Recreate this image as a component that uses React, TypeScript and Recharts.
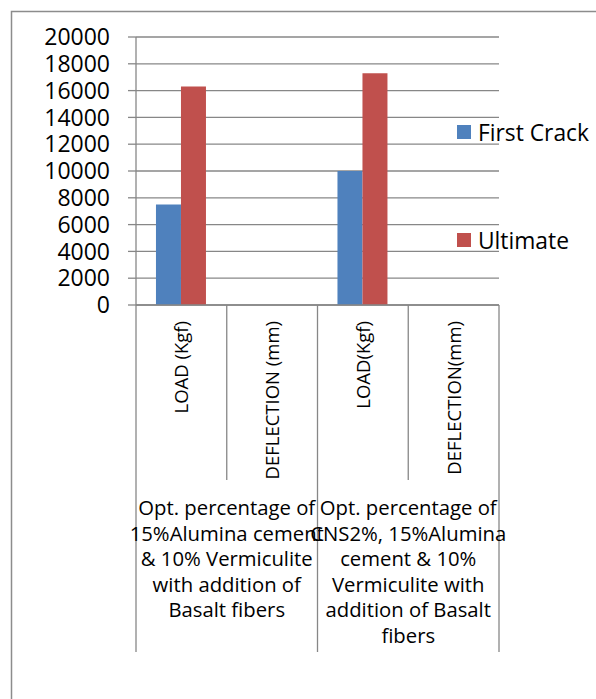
import React from 'react';
import { BarChart, Bar, XAxis, YAxis, CartesianGrid, Legend } from 'recharts';

const measures = ['LOAD (Kgf)', 'DEFLECTION (mm)', 'LOAD(Kgf)', 'DEFLECTION(mm)'];
const groups = [
  'Opt. percentage of\n15%Alumina cement\n& 10% Vermiculite\nwith addition of\nBasalt fibers',
  'Opt. percentage of\nCNS2%, 15%Alumina\ncement & 10%\nVermiculite with\naddition of Basalt\nfibers',
];
const measureGroup = [0, 0, 1, 1];
const firstCrack = [7500, 0, 10000, 0];
const ultimate = [16300, 0, 17300, 0];
const yTicks = [0, 2000, 4000, 6000, 8000, 10000, 12000, 14000, 16000, 18000, 20000];

const data = measures.map((m, i) => ({
  measure: m,
  group: groups[measureGroup[i]],
  'First Crack': firstCrack[i],
  Ultimate: ultimate[i],
}));

const W = 596;
const H = 699;
const MARGIN = { top: 37, right: 97, left: 0, bottom: 47 };
const Y_W = 136;
const PLOT_W = W - MARGIN.left - Y_W - MARGIN.right;
const CAT_H = 175;
const GROUP_H = 172;
const FONT = '"Open Sans", sans-serif';
const LINE = '#878787';

const CategoryTick = (props: any) => {
  const { x, y, payload, index } = props;
  const band = PLOT_W / measures.length;
  return (
    <g>
      <line x1={x - band / 2} x2={x - band / 2} y1={y} y2={y + CAT_H} stroke={LINE} strokeWidth={1.3} />
      {index === measures.length - 1 && (
        <line x1={x + band / 2} x2={x + band / 2} y1={y} y2={y + CAT_H} stroke={LINE} strokeWidth={1.3} />
      )}
      <text
        x={x + 7}
        y={y + 16}
        transform={`rotate(-90, ${x + 7}, ${y + 16})`}
        textAnchor="end"
        fontSize={18.5}
        fontFamily={FONT}
        fill="#000"
      >
        {payload.value}
      </text>
    </g>
  );
};

const GroupTick = (props: any) => {
  const { x, y, payload, index } = props;
  const band = PLOT_W / groups.length;
  const lines = String(payload.value).split('\n');
  return (
    <g>
      <line x1={x - band / 2} x2={x - band / 2} y1={y} y2={y + GROUP_H} stroke={LINE} strokeWidth={1.3} />
      {index === groups.length - 1 && (
        <line x1={x + band / 2} x2={x + band / 2} y1={y} y2={y + GROUP_H} stroke={LINE} strokeWidth={1.3} />
      )}
      <text textAnchor="middle" fontSize={20.3} fontFamily={FONT} fill="#000">
        {lines.map((l, i) => (
          <tspan key={i} x={x} y={y + 35 + i * 25.6}>
            {l}
          </tspan>
        ))}
      </text>
    </g>
  );
};

const LegendContent = (props: any) => {
  const { payload } = props;
  return (
    <div style={{ fontFamily: FONT, fontSize: 22.8, color: '#000' }}>
      {(payload || []).map((p: any, i: number) => (
        <div key={i} style={{ display: 'flex', alignItems: 'center', height: 28, marginBottom: i === 0 ? 80 : 0 }}>
          <span style={{ width: 14, height: 14, background: p.color, display: 'inline-block', marginRight: 7 }} />
          <span style={{ whiteSpace: 'nowrap' }}>{p.value}</span>
        </div>
      ))}
    </div>
  );
};

export default function App() {
  return (
    <div style={{ position: 'absolute', left: 0, top: 0, width: W, height: H, background: '#fff', overflow: 'hidden' }}>
      <svg width={W} height={H} style={{ position: 'absolute', left: 0, top: 0 }}>
        <path d={`M11.5,${H} L11.5,11.5 L${W},11.5`} fill="none" stroke="#8c8c8c" strokeWidth={1.5} />
      </svg>
      <BarChart
        width={W}
        height={H}
        data={data}
        margin={MARGIN}
        barCategoryGap="22%"
        barGap={0}
        style={{ position: 'absolute', left: 0, top: 0 }}
      >
        <CartesianGrid horizontal vertical={false} stroke={LINE} strokeWidth={1.3} />
        <XAxis
          dataKey="measure"
          interval={0}
          height={CAT_H}
          tickSize={0}
          tickMargin={0}
          tickLine={false}
          axisLine={{ stroke: LINE, strokeWidth: 1.3 }}
          tick={<CategoryTick />}
        />
        <XAxis
          xAxisId="group"
          dataKey="group"
          allowDuplicatedCategory={false}
          interval={0}
          height={GROUP_H}
          tickSize={0}
          tickMargin={0}
          tickLine={false}
          axisLine={false}
          tick={<GroupTick />}
        />
        <YAxis
          width={Y_W}
          domain={[0, 20000]}
          ticks={yTicks}
          interval={0}
          tickSize={8}
          tickMargin={18}
          axisLine={{ stroke: LINE, strokeWidth: 1.3 }}
          tickLine={{ stroke: LINE, strokeWidth: 1.3 }}
          tick={{ fill: '#000', fontSize: 23, fontFamily: FONT }}
        />
        <Legend
          layout="vertical"
          align="center"
          verticalAlign="middle"
          content={<LegendContent />}
          wrapperStyle={{ position: 'absolute', left: 457, top: 118, width: 139 }}
        />
        <Bar dataKey="First Crack" fill="#4F81BD" isAnimationActive={false} />
        <Bar dataKey="Ultimate" fill="#C0504D" isAnimationActive={false} />
      </BarChart>
    </div>
  );
}
